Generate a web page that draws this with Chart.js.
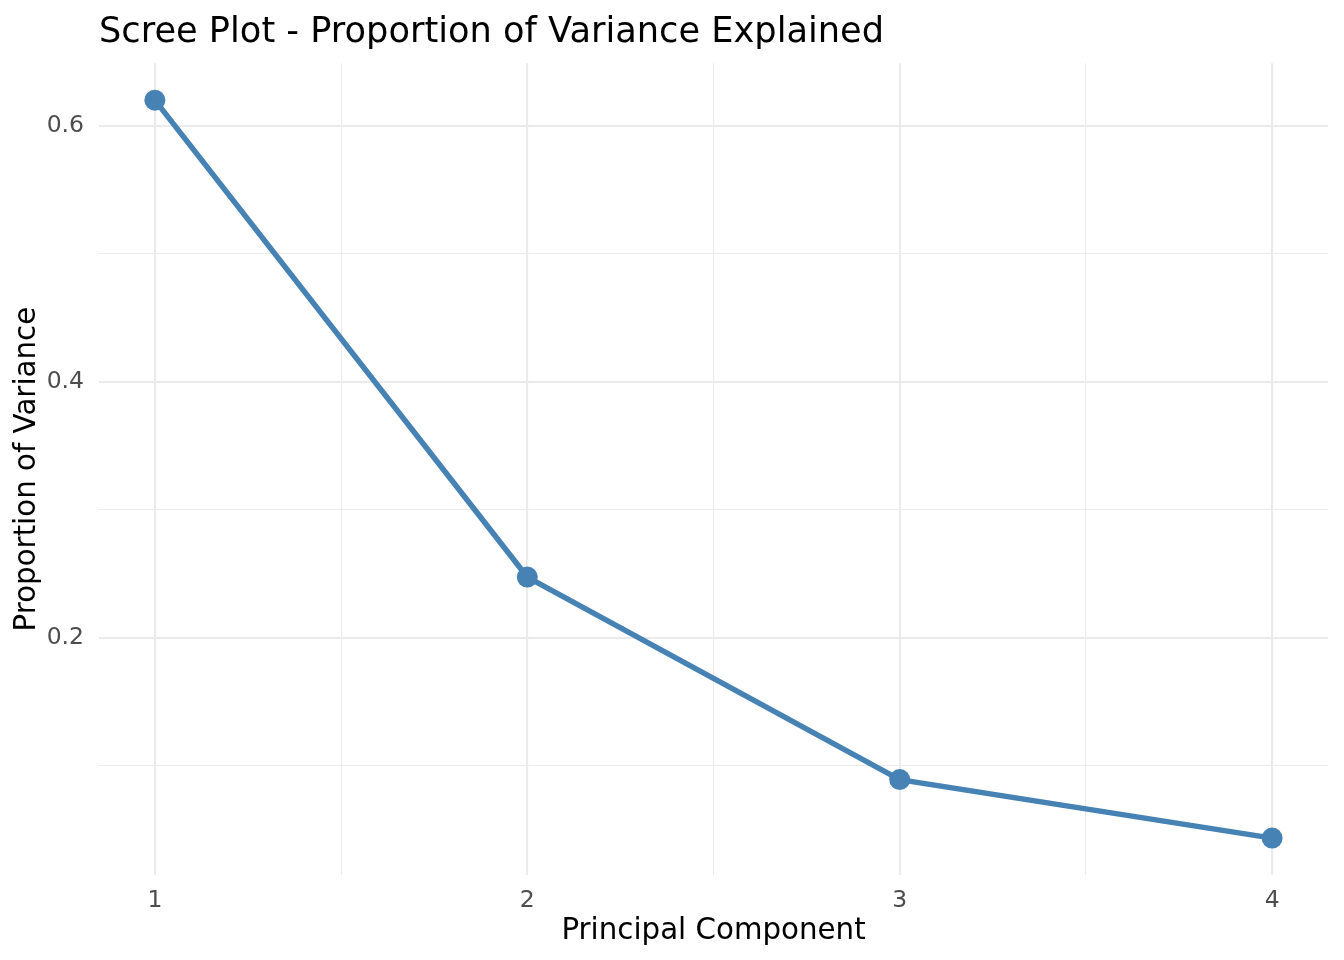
<!DOCTYPE html>
<html>
<head>
<meta charset="utf-8">
<script src="https://cdn.jsdelivr.net/npm/chart.js@4.4.1/dist/chart.umd.min.js"></script>
<style>
  html, body { margin: 0; padding: 0; background: #ffffff; }
  canvas { display: block; }
</style>
</head>
<body>
<canvas id="scree" width="1344" height="960"></canvas>
<script>
// PCA scree data (proportion of variance per component)
const components = [1, 2, 3, 4];
const proportion = [0.6201, 0.2474, 0.0891, 0.0434];
const xTicks = [1, 1.5, 2, 2.5, 3, 3.5, 4];
const yTicks = [0.1, 0.2, 0.3, 0.4, 0.5, 0.6];
const yLabels = ['0.2', '0.4', '0.6'];

// ggplot-style 5% expansion of the data range
const xSpan = Math.max(...components) - Math.min(...components);
const ySpan = Math.max(...proportion) - Math.min(...proportion);
const xMin = Math.min(...components) - 0.05 * xSpan;
const xMax = Math.max(...components) + 0.05 * xSpan;
const yMin = Math.min(...proportion) - 0.05 * ySpan;
const yMax = Math.max(...proportion) + 0.05 * ySpan;

const points = components.map((c, i) => ({ x: c, y: proportion[i] }));

const isMajorX = v => Number.isInteger(v);
const fmtY = v => v.toFixed(1);
const isMajorY = v => yLabels.includes(fmtY(v));

const ctx = document.getElementById('scree');

new Chart(ctx, {
  type: 'line',
  data: {
    datasets: [{
      label: 'Proportion of Variance',
      data: points,
      borderColor: '#4682B4',
      backgroundColor: '#4682B4',
      borderWidth: 5.5,
      pointRadius: 10.5,
      pointHoverRadius: 10.5,
      pointBorderWidth: 0,
      fill: false,
      tension: 0
    }]
  },
  options: {
    responsive: false,
    animation: false,
    devicePixelRatio: 1,
    layout: { padding: { top: 0, left: 0, right: 16, bottom: 0 } },
    plugins: {
      legend: { display: false },
      tooltip: { enabled: false },
      title: {
        display: true,
        text: 'Scree Plot - Proportion of Variance Explained',
        align: 'start',
        fullSize: false,
        color: '#000000',
        font: { family: 'DejaVu Sans', size: 35.2, weight: 'normal', lineHeight: 1.2 },
        padding: { top: 12, bottom: 9 }
      }
    },
    scales: {
      x: {
        type: 'linear',
        min: xMin,
        max: xMax,
        afterBuildTicks: axis => { axis.ticks = xTicks.map(v => ({ value: v })); },
        afterFit: axis => { axis.height = 85; },
        border: { display: false },
        grid: {
          drawTicks: false,
          color: '#ebebeb',
          lineWidth: c => (isMajorX(c.tick.value) ? 2.1 : 1.07)
        },
        ticks: {
          padding: 12,
          color: '#4d4d4d',
          font: { family: 'DejaVu Sans', size: 23.5 },
          maxRotation: 0,
          autoSkip: false,
          callback: v => (isMajorX(v) ? String(v) : '')
        },
        title: {
          display: true,
          text: 'Principal Component',
          color: '#000000',
          font: { family: 'DejaVu Sans', size: 29.3, lineHeight: 1.2 },
          padding: { top: 0, bottom: 11 }
        }
      },
      y: {
        type: 'linear',
        min: yMin,
        max: yMax,
        afterBuildTicks: axis => { axis.ticks = yTicks.map(v => ({ value: v })); },
        afterFit: axis => { axis.width = 99; },
        border: { display: false },
        grid: {
          drawTicks: false,
          color: '#ebebeb',
          lineWidth: c => (isMajorY(c.tick.value) ? 2.1 : 1.07)
        },
        ticks: {
          padding: 15,
          color: '#4d4d4d',
          font: { family: 'DejaVu Sans', size: 23.5 },
          autoSkip: false,
          callback: v => (isMajorY(v) ? fmtY(v) : '')
        },
        title: {
          display: true,
          text: 'Proportion of Variance',
          color: '#000000',
          font: { family: 'DejaVu Sans', size: 29.3, lineHeight: 1.2 },
          padding: { top: 10, bottom: 0 }
        }
      }
    }
  }
});
</script>
</body>
</html>
